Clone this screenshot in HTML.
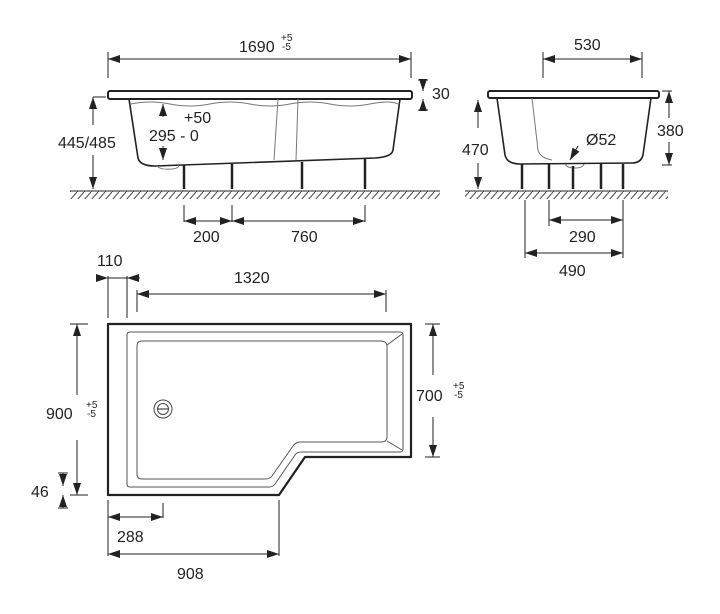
<!DOCTYPE html>
<html><head><style>
html,body{margin:0;padding:0;background:#fff;}
svg{display:block}
text{font-family:"Liberation Sans",Arial,sans-serif;fill:#222;}
</style></head><body>
<svg width="720" height="614" viewBox="0 0 720 614" xmlns="http://www.w3.org/2000/svg">
<defs>
<marker id="a" viewBox="0 0 12 8" refX="12" refY="4" markerWidth="12" markerHeight="8" markerUnits="userSpaceOnUse" orient="auto-start-reverse"><path d="M0,0 L12,4 L0,8 Z" fill="#222"/></marker>
<pattern id="h" width="7" height="8" patternUnits="userSpaceOnUse"><path d="M7,0 L0,8" stroke="#444" stroke-width="1"/></pattern>
</defs>
<g stroke="#222" stroke-width="1" fill="none">
<!-- LEFT SIDE VIEW -->
<line x1="108" y1="59" x2="411" y2="59" marker-start="url(#a)" marker-end="url(#a)"/>
<line x1="108" y1="52" x2="108" y2="78"/><line x1="411" y1="52" x2="411" y2="78"/>
<rect x="108" y="91" width="304" height="8" rx="2" stroke-width="2"/>
<path d="M129,99 L138,158 Q140,166 155,166 L375,158 Q392,157 393,150 L400,99" stroke-width="1.6"/>
<path d="M131,104 Q150,100 170,104 T210,104 T250,104 T290,104 T330,104 T370,104 T398,104" stroke="#777"/>
<path d="M278,99 L274,160 M298,99 L296,160" stroke="#777"/>
<path d="M157,166 Q160,170 172,169 Q180,168 178,165" stroke="#777"/>
<g stroke-width="2.5">
<line x1="184" y1="165" x2="184" y2="189"/><line x1="232" y1="164" x2="232" y2="189"/>
<line x1="302" y1="162" x2="302" y2="189"/><line x1="365" y1="159" x2="365" y2="189"/>
</g>
<line x1="70" y1="191" x2="440" y2="191"/>
<rect x="70" y="191" width="370" height="8" fill="url(#h)" stroke="none"/>
<line x1="423" y1="80" x2="423" y2="91" marker-end="url(#a)"/>
<line x1="423" y1="110" x2="423" y2="99" marker-end="url(#a)"/>
<line x1="418" y1="80" x2="428" y2="80"/><line x1="418" y1="110" x2="428" y2="110"/>
<line x1="93" y1="125" x2="93" y2="97" marker-end="url(#a)"/>
<line x1="93" y1="155" x2="93" y2="189" marker-end="url(#a)"/>
<line x1="93" y1="97" x2="106" y2="97"/>
<line x1="163" y1="117" x2="163" y2="104" marker-end="url(#a)"/>
<line x1="163" y1="146" x2="163" y2="160" marker-end="url(#a)"/>
<line x1="184" y1="205" x2="184" y2="222"/><line x1="232" y1="205" x2="232" y2="222"/><line x1="365" y1="205" x2="365" y2="222"/>
<line x1="184" y1="221" x2="232" y2="221" marker-start="url(#a)" marker-end="url(#a)"/>
<line x1="232" y1="221" x2="365" y2="221" marker-start="url(#a)" marker-end="url(#a)"/>

<!-- RIGHT END VIEW -->
<line x1="543" y1="59" x2="642" y2="59" marker-start="url(#a)" marker-end="url(#a)"/>
<line x1="543" y1="52" x2="543" y2="78"/><line x1="642" y1="52" x2="642" y2="78"/>
<rect x="488" y="91" width="171" height="7" rx="2" stroke-width="2"/>
<path d="M497,98 L505,155 Q507,164 520,164 L632,163 Q641,163 643,155 L651,98" stroke-width="1.6"/>
<path d="M532,98 L538,150 Q540,158 552,160" stroke="#777"/>
<path d="M565,164 Q567,168 575,168 Q583,168 584,164" stroke="#777"/>
<g stroke-width="2.5">
<line x1="522" y1="164" x2="522" y2="189"/><line x1="549" y1="164" x2="549" y2="189"/>
<line x1="573" y1="166" x2="573" y2="189"/><line x1="601" y1="164" x2="601" y2="189"/>
<line x1="623" y1="164" x2="623" y2="189"/>
</g>
<line x1="465" y1="191" x2="668" y2="191"/>
<rect x="465" y="191" width="203" height="8" fill="url(#h)" stroke="none"/>
<line x1="478" y1="128" x2="478" y2="100" marker-end="url(#a)"/>
<line x1="478" y1="163" x2="478" y2="189" marker-end="url(#a)"/>
<line x1="669" y1="118" x2="669" y2="91" marker-end="url(#a)"/>
<line x1="669" y1="142" x2="669" y2="165" marker-end="url(#a)"/>
<line x1="662" y1="91" x2="672" y2="91"/><line x1="662" y1="165" x2="672" y2="165"/>
<line x1="578" y1="146" x2="570" y2="160" marker-end="url(#a)"/>
<line x1="549" y1="200" x2="549" y2="226"/><line x1="623" y1="200" x2="623" y2="258"/><line x1="525" y1="200" x2="525" y2="258"/>
<line x1="549" y1="220" x2="623" y2="220" marker-start="url(#a)" marker-end="url(#a)"/>
<line x1="525" y1="253" x2="623" y2="253" marker-start="url(#a)" marker-end="url(#a)"/>

<!-- PLAN VIEW -->
<path d="M108,324 H411 V457 H305 L279,495 H108 Z" stroke-width="2.2" stroke-linejoin="round"/>
<path d="M130,332 H400 Q403,332 403,335 V449 Q403,452 400,452 H301 Q297,452 295,455 L275,484 Q273,487 269,487 H130 Q127,487 127,484 V335 Q127,332 130,332 Z" stroke="#555"/>
<path d="M142,341 H380 Q386,341 387,345 L387,437 Q387,442 381,442 H300 Q296,442 293,446 L272,476 Q270,479 265,479 H142 Q137,479 137,474 V346 Q137,341 142,341 Z" stroke="#555"/>
<path d="M387,345 L402,334 M387,441 L402,450" stroke="#555"/>
<circle cx="163" cy="409" r="9" stroke="#444"/><circle cx="163" cy="409" r="5.5" stroke="#444"/>
<line x1="158" y1="409" x2="168" y2="409"/>
<line x1="108" y1="276" x2="108" y2="318"/><line x1="127" y1="276" x2="127" y2="318"/>
<line x1="96" y1="278" x2="108" y2="278" marker-end="url(#a)"/>
<line x1="140" y1="278" x2="127" y2="278" marker-end="url(#a)"/>
<line x1="108" y1="278" x2="127" y2="278"/>
<line x1="137" y1="290" x2="137" y2="312"/><line x1="386" y1="290" x2="386" y2="312"/>
<line x1="137" y1="294" x2="386" y2="294" marker-start="url(#a)" marker-end="url(#a)"/>
<line x1="77" y1="395" x2="77" y2="324" marker-end="url(#a)"/>
<line x1="77" y1="440" x2="77" y2="495" marker-end="url(#a)"/>
<line x1="70" y1="324" x2="88" y2="324"/><line x1="70" y1="495" x2="88" y2="495"/>
<line x1="63" y1="473" x2="63" y2="486" marker-end="url(#a)"/>
<line x1="63" y1="508" x2="63" y2="495" marker-end="url(#a)"/>
<line x1="58" y1="473" x2="68" y2="473"/><line x1="58" y1="508" x2="68" y2="508"/>
<line x1="433" y1="375" x2="433" y2="324" marker-end="url(#a)"/>
<line x1="433" y1="417" x2="433" y2="457" marker-end="url(#a)"/>
<line x1="425" y1="324" x2="440" y2="324"/><line x1="425" y1="457" x2="440" y2="457"/>
<line x1="108" y1="500" x2="108" y2="556"/><line x1="163" y1="503" x2="163" y2="518"/><line x1="279" y1="500" x2="279" y2="556"/>
<line x1="108" y1="517" x2="163" y2="517" marker-start="url(#a)" marker-end="url(#a)"/>
<line x1="108" y1="554" x2="279" y2="554" marker-start="url(#a)" marker-end="url(#a)"/>
</g>
<g font-size="16">
<text x="239" y="52">1690</text><text x="281" y="41" font-size="10">+5</text><text x="282" y="50" font-size="10">-5</text>
<text x="432" y="99">30</text>
<text x="58" y="148">445/485</text>
<text x="184" y="123">+50</text>
<text x="149" y="141">295 - 0</text>
<text x="193" y="242">200</text><text x="291" y="242">760</text>
<text x="574" y="50">530</text>
<text x="462" y="155">470</text>
<text x="657" y="136">380</text>
<text x="586" y="145">Ø52</text>
<text x="569" y="242">290</text><text x="559" y="276">490</text>
<text x="97" y="266">110</text>
<text x="234" y="283">1320</text>
<text x="46" y="419">900</text><text x="86" y="408" font-size="10">+5</text><text x="87" y="417" font-size="10">-5</text>
<text x="31" y="497">46</text>
<text x="416" y="401">700</text><text x="453" y="389" font-size="10">+5</text><text x="454" y="398" font-size="10">-5</text>
<text x="117" y="542">288</text>
<text x="177" y="579">908</text>
</g>
</svg>
</body></html>
